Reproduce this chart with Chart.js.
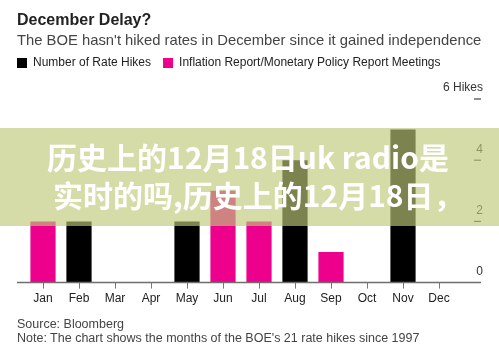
<!DOCTYPE html>
<html>
<head>
<meta charset="utf-8">
<script src="https://cdn.jsdelivr.net/npm/chart.js@4/dist/chart.umd.min.js"></script>
<style>
  html, body { margin: 0; padding: 0; background: #fff; }
  #wrap { position: relative; width: 499px; height: 354px; overflow: hidden; font-family: "Liberation Sans", Arial, sans-serif; }
  #chartBox { position: absolute; left: 0; top: 0; width: 499px; height: 354px; }
  .title { position: absolute; left: 17px; top: 11px; font-size: 16px; font-weight: bold; color: #222; line-height: 18px; white-space: nowrap; }
  .subtitle { position: absolute; left: 17px; top: 32px; font-size: 14.8px; color: #444; line-height: 17px; white-space: nowrap; }
  .notes { position: absolute; left: 17px; top: 317px; font-size: 12.5px; color: #444; line-height: 14px; white-space: nowrap; }
  .banner { position: absolute; left: 0; top: 128px; width: 499px; height: 98px; background: rgba(191, 201, 122, 0.65);
            box-sizing: border-box; padding-top: 9px; color: #fff; font-weight: bold;
            font-family: "Noto Sans CJK SC", "Noto Sans", sans-serif; font-size: 30px; line-height: 38px; }
  .banner div { white-space: nowrap; }
  .l1 { padding-left: 47px; }
  .l2 { padding-left: 53px; }
</style>
</head>
<body>
<div id="wrap">
  <div id="chartBox"><canvas id="myChart"></canvas></div>
  <div class="title">December Delay?</div>
  <div class="subtitle">The BOE hasn't hiked rates in December since it gained independence</div>
  <div class="notes">Source: Bloomberg<br>Note: The chart shows the months of the BOE's 21 rate hikes since 1997</div>
  <div class="banner"><div class="l1">历史上的12月18日uk radio是</div><div class="l2">实时的吗,历史上的12月18日，</div></div>
</div>
<script>
// Months and number of hikes in each
const months = ['Jan', 'Feb', 'Mar', 'Apr', 'May', 'Jun', 'Jul', 'Aug', 'Sep', 'Oct', 'Nov', 'Dec'];
const rateHikes = [2, 2, 0, 0, 2, 3, 2, 4, 1, 0, 5, 0];
// months drawn in pink in the original
const reportMeetingMonth = [true, false, false, false, false, true, true, false, true, false, false, false];
const yTicks = [0, 2, 4, 6];
const yTickLabels = ['0', '2', '4', '6 Hikes'];

const FONT = '"Liberation Sans", Arial, sans-serif';

// Split into the two coloured series
const blackBars = rateHikes.map((v, i) => reportMeetingMonth[i] ? null : v);
const pinkBars = rateHikes.map((v, i) => reportMeetingMonth[i] ? v : null);

// baseline + right hand tick labels
const axisDecor = {
  id: 'axisDecor',
  afterDraw(chart) {
    const ctx = chart.ctx;
    const y = chart.scales.y;
    const area = chart.chartArea;
    const base = y.getPixelForValue(0);
    ctx.save();
    ctx.strokeStyle = '#6e6e6e';
    ctx.lineWidth = 1.5;
    ctx.beginPath();
    ctx.moveTo(area.left - 8, base);
    ctx.lineTo(area.right + 24, base);
    ctx.stroke();

    ctx.font = '12px ' + FONT;
    ctx.fillStyle = '#333';
    ctx.textAlign = 'right';
    ctx.textBaseline = 'middle';
    ctx.lineWidth = 1.2;
    ctx.strokeStyle = '#444';
    yTicks.forEach((v, i) => {
      const py = y.getPixelForValue(v);
      ctx.fillText(yTickLabels[i], area.right + 26, py - 11);
      if (v > 0) {
        ctx.beginPath();
        ctx.moveTo(area.right + 17, py);
        ctx.lineTo(area.right + 24, py);
        ctx.stroke();
      }
    });
    ctx.restore();
  }
};

// extra room under the legend
const legendGap = {
  id: 'legendGap',
  beforeInit(chart) {
    const fit = chart.legend.fit;
    chart.legend.fit = function () {
      fit.bind(chart.legend)();
      this.height += 20;
    };
  }
};

const ctx = document.getElementById('myChart').getContext('2d');
const myChart = new Chart(ctx, {
  type: 'bar',
  data: {
    labels: months,
    datasets: [{
      label: 'Number of Rate Hikes',
      data: blackBars,
      backgroundColor: '#000000',
      borderWidth: 0
    }, {
      label: 'Inflation Report/Monetary Policy Report Meetings',
      data: pinkBars,
      backgroundColor: '#ec008c',
      borderWidth: 0
    }]
  },
  options: {
    responsive: true,
    maintainAspectRatio: false,
    animation: false,
    datasets: { bar: { categoryPercentage: 1, barPercentage: 0.7 } },
    layout: { padding: { left: 5, right: 42, top: 45, bottom: 45 } },
    plugins: {
      tooltip: { enabled: false },
      legend: {
        position: 'top',
        align: 'start',
        labels: {
          boxWidth: 10,
          boxHeight: 10,
          padding: 12,
          color: '#222',
          font: { family: FONT, size: 12 }
        }
      }
    },
    scales: {
      x: {
        stacked: true,
        grid: { display: true, drawOnChartArea: false, drawTicks: true, tickLength: 6, color: '#777', offset: false },
        border: { display: false },
        ticks: { padding: 3, color: '#222', font: { family: FONT, size: 12 } }
      },
      y: {
        stacked: true,
        display: false,
        min: 0,
        max: 6
      },
      yL: {
        type: 'linear',
        position: 'left',
        display: true,
        ticks: { display: false },
        grid: { display: false },
        border: { display: false },
        afterFit(s) { s.width = 20; }
      }
    }
  },
  plugins: [axisDecor, legendGap]
});
</script>
</body>
</html>
